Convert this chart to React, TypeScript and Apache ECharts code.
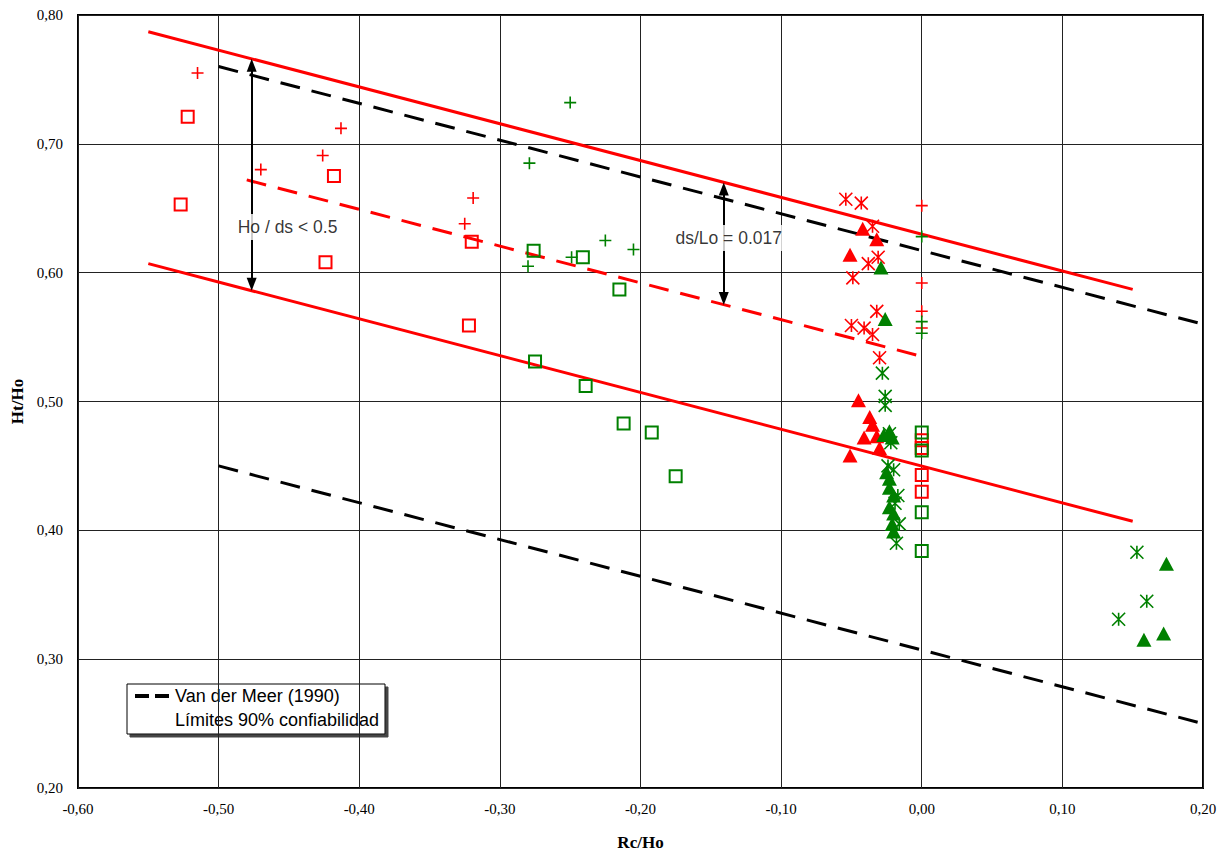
import React, { useEffect, useRef } from "react";
import * as echarts from "echarts";

// Measured points (Rc/Ho, Ht/Ho) per test group
const redPlus = [
  [-0.515, 0.755], [-0.47, 0.68], [-0.413, 0.712], [-0.426, 0.691], [-0.319, 0.658],
  [-0.325, 0.638], [0.0, 0.652], [0.0, 0.592], [0.0, 0.57], [0.0, 0.557],
];
const redSquare = [
  [-0.522, 0.721], [-0.527, 0.653], [-0.418, 0.675], [-0.424, 0.608], [-0.32, 0.624],
  [-0.322, 0.559], [0.0, 0.47], [0.0, 0.464], [0.0, 0.443], [0.0, 0.43],
];
const greenPlus = [
  [-0.25, 0.732], [-0.279, 0.685], [-0.28, 0.605], [-0.249, 0.612], [-0.225, 0.625],
  [-0.205, 0.618], [0.0, 0.628], [0.0, 0.562], [0.0, 0.553],
];
const greenSquare = [
  [-0.276, 0.617], [-0.241, 0.612], [-0.215, 0.587], [-0.275, 0.531], [-0.239, 0.512],
  [-0.212, 0.483], [-0.192, 0.476], [-0.175, 0.442], [0.0, 0.476], [0.0, 0.462],
  [0.0, 0.414], [0.0, 0.384],
];
const redStar = [
  [-0.054, 0.657], [-0.043, 0.654], [-0.035, 0.636], [-0.031, 0.612], [-0.038, 0.607],
  [-0.049, 0.596], [-0.032, 0.57], [-0.05, 0.559], [-0.041, 0.557], [-0.035, 0.552],
  [-0.03, 0.534],
];
const redTriangle = [
  [-0.042, 0.634], [-0.032, 0.626], [-0.051, 0.614], [-0.045, 0.501], [-0.037, 0.488],
  [-0.035, 0.482], [-0.041, 0.472], [-0.032, 0.473], [-0.03, 0.464], [-0.051, 0.458],
];
const greenStar = [
  [-0.028, 0.522], [-0.026, 0.504], [-0.026, 0.497], [-0.023, 0.475], [-0.022, 0.468],
  [-0.024, 0.45], [-0.02, 0.447], [-0.017, 0.427], [-0.019, 0.421], [-0.016, 0.405],
  [-0.018, 0.39], [0.153, 0.383], [0.16, 0.345], [0.14, 0.331],
];
const greenTriangle = [
  [-0.029, 0.604], [-0.026, 0.564], [-0.027, 0.474], [-0.023, 0.477], [-0.021, 0.472],
  [-0.025, 0.445], [-0.023, 0.44], [-0.023, 0.433], [-0.02, 0.427], [-0.023, 0.418],
  [-0.02, 0.413], [-0.021, 0.405], [-0.02, 0.399], [0.174, 0.374], [0.172, 0.32],
  [0.158, 0.315],
];

// Fitted band and reference lines
const upperLimit = [[-0.55, 0.787], [0.15, 0.587]];
const lowerLimit = [[-0.55, 0.607], [0.15, 0.407]];
const meanLine = [[-0.48, 0.672], [0.0, 0.535]];
const vdmUpper = [[-0.5, 0.76], [0.2, 0.56]];
const vdmLower = [[-0.5, 0.45], [0.2, 0.25]];

// Dimension arrows: [x, yFrom, yTo]
const arrows = [
  [-0.4765, 0.591, 0.761],
  [-0.1408, 0.58, 0.665],
];
const notes = [
  { name: "Ho / ds < 0.5", value: [-0.451, 0.6354] },
  { name: "ds/Lo = 0.017", value: [-0.1373, 0.6269] },
];

const RED = "#ff0000";
const GREEN = "#008000";
const PLUS = "path://M6,0 L6,12 M0,6 L12,6";
const STAR = "path://M0,0 L12,12 M12,0 L0,12 M6,0 L6,12";

const fmt = (v: number) => (Math.abs(v) < 1e-9 ? 0 : v).toFixed(2).replace(".", ",");

function markers(name: string, data: number[][], symbol: string, color: string, kind: "line" | "open" | "fill") {
  const base: any = { type: "scatter", name, data, symbol, silent: true, z: 3 };
  if (kind === "line") {
    base.symbolSize = symbol === STAR ? 13 : 12;
    base.itemStyle = { color, borderColor: color, borderWidth: 1.6, opacity: 1 };
  } else if (kind === "open") {
    base.symbolSize = 12;
    base.itemStyle = { color: "rgba(255,255,255,0)", borderColor: color, borderWidth: 2, opacity: 1 };
  } else {
    base.symbolSize = [15, 14];
    base.itemStyle = { color, borderWidth: 0, opacity: 1 };
  }
  return base;
}

function line(name: string, data: number[][], color: string, dashed: boolean) {
  return {
    type: "line",
    name,
    data,
    symbol: "none",
    silent: true,
    z: 2,
    lineStyle: { color, width: 3, type: dashed ? [20, 12] : "solid" },
  };
}

export default function App() {
  const ref = useRef<HTMLDivElement>(null);

  useEffect(() => {
    if (!ref.current) return;
    const chart = echarts.init(ref.current, undefined, { renderer: "svg" });
    const axisFont = { fontFamily: "Liberation Serif", fontSize: 15, color: "#000" };
    const nameFont = { fontFamily: "Liberation Serif", fontSize: 17, fontWeight: "bold", color: "#000" };
    const split = { show: true, lineStyle: { color: "#222", width: 1 } };

    chart.setOption({
      animation: false,
      backgroundColor: "#fff",
      grid: {
        left: 78, top: 15, width: 1125, height: 773,
        outerBoundsMode: "none",
        containLabel: false,
        show: true, borderColor: "#000", borderWidth: 2, backgroundColor: "rgba(0,0,0,0)",
      },
      xAxis: {
        type: "value", min: -0.6, max: 0.2, interval: 0.1,
        axisLine: { show: false }, axisTick: { show: false }, splitLine: split,
        axisLabel: { ...axisFont, formatter: fmt, margin: 13 },
        name: "Rc/Ho", nameLocation: "middle", nameGap: 46, nameTextStyle: nameFont,
      },
      yAxis: {
        type: "value", min: 0.2, max: 0.8, interval: 0.1,
        axisLine: { show: false }, axisTick: { show: false }, splitLine: split,
        axisLabel: { ...axisFont, formatter: fmt, margin: 15 },
        name: "Ht/Ho", nameLocation: "middle", nameGap: 52, nameRotate: 90, nameTextStyle: nameFont,
      },
      series: [
        line("Van der Meer (1990)", vdmUpper, "#000", true),
        line("Van der Meer (1990) inferior", vdmLower, "#000", true),
        line("Límite superior", upperLimit, RED, false),
        line("Límite inferior", lowerLimit, RED, false),
        line("Media", meanLine, RED, true),
        {
          type: "line",
          name: "cotas",
          data: [],
          silent: true,
          z: 4,
          markLine: {
            silent: true,
            symbol: ["triangle", "triangle"],
            symbolSize: [10, 13],
            label: { show: false },
            lineStyle: { color: "#000", width: 2, type: "solid" },
            emphasis: { disabled: true },
            data: arrows.map(([x, y1, y2]) => [{ coord: [x, y1] }, { coord: [x, y2] }]),
          },
        },
        markers("rojo +", redPlus, PLUS, RED, "line"),
        markers("rojo cuadrado", redSquare, "rect", RED, "open"),
        markers("verde +", greenPlus, PLUS, GREEN, "line"),
        markers("verde cuadrado", greenSquare, "rect", GREEN, "open"),
        markers("rojo asterisco", redStar, STAR, RED, "line"),
        markers("rojo triángulo", redTriangle, "triangle", RED, "fill"),
        markers("verde asterisco", greenStar, STAR, GREEN, "line"),
        markers("verde triángulo", greenTriangle, "triangle", GREEN, "fill"),
        {
          type: "scatter",
          name: "notas",
          data: notes,
          symbolSize: 1,
          silent: true,
          z: 6,
          itemStyle: { color: "rgba(0,0,0,0)" },
          label: {
            show: true,
            position: "inside",
            formatter: (p: any) => p.name,
            backgroundColor: "#fff",
            padding: [4, 2],
            fontFamily: "Liberation Sans",
            fontSize: 17.5,
            color: "#000",
          },
        },
      ],
      graphic: [
        {
          type: "group",
          x: 127,
          y: 684,
          z: 10,
          children: [
            {
              type: "rect",
              shape: { x: 0, y: 0, width: 258, height: 50 },
              style: {
                fill: "#fff", stroke: "#000", lineWidth: 1,
                shadowBlur: 0, shadowOffsetX: 3, shadowOffsetY: 3, shadowColor: "#444",
              },
            },
            {
              type: "line",
              shape: { x1: 8, y1: 12, x2: 43, y2: 12 },
              style: { stroke: "#000", lineWidth: 4, lineDash: [14, 6] },
            },
            {
              type: "text",
              x: 48,
              y: 12,
              style: {
                text: "Van der Meer (1990)", fill: "#000",
                fontFamily: "Liberation Sans", fontSize: 18, verticalAlign: "middle",
              },
            },
            {
              type: "text",
              x: 48,
              y: 36,
              style: {
                text: "Límites 90% confiabilidad", fill: "#000",
                fontFamily: "Liberation Sans", fontSize: 18, verticalAlign: "middle",
              },
            },
          ],
        },
      ],
    });
    return () => chart.dispose();
  }, []);

  return (
    <div
      ref={ref}
      style={{ position: "absolute", left: 0, top: 0, width: 1218, height: 851, background: "#fff" }}
    />
  );
}
